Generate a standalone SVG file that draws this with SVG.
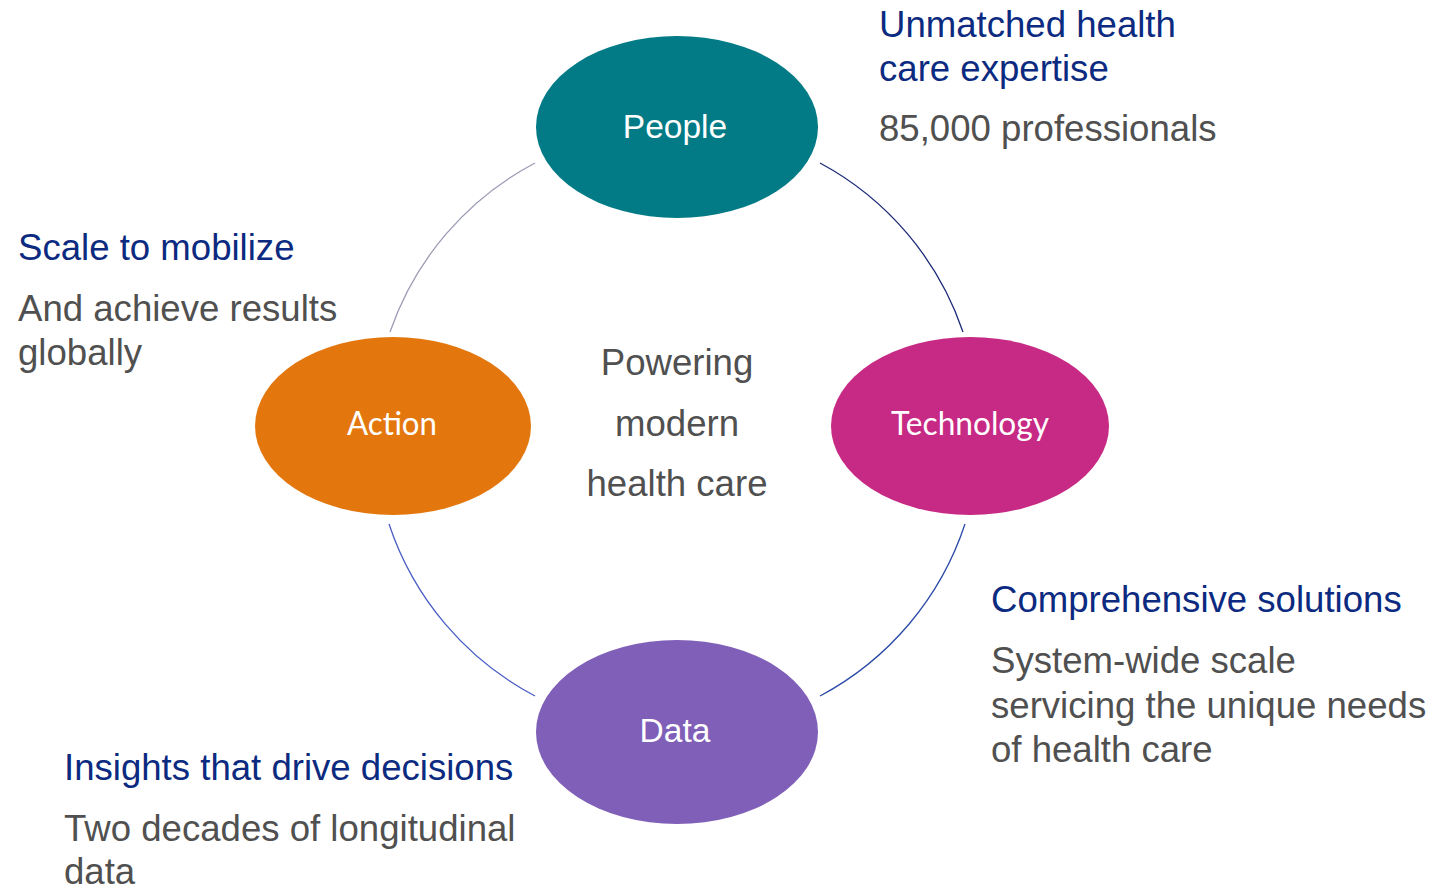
<svg xmlns="http://www.w3.org/2000/svg" width="1445" height="888" viewBox="0 0 1445 888">
<style>
.node-label{font-family:"Liberation Sans",Arial,sans-serif;font-size:33.5px;fill:#ffffff;text-anchor:middle}
.node-label2{font-family:Lato,"Open Sans",sans-serif;font-size:33px;fill:#ffffff;text-anchor:middle}
.head{font-family:"Liberation Sans",Arial,sans-serif;font-size:36.6px;fill:#0b2a80}
.sub{font-family:"Liberation Sans",Arial,sans-serif;font-size:36.6px;fill:#505050}
.center{font-family:"Liberation Sans",Arial,sans-serif;font-size:36.6px;fill:#505050;text-anchor:middle}
.arc{fill:none;stroke-width:1.3}
</style>
<rect width="1445" height="888" fill="#ffffff"/>
<g id="connectors">
<path class="arc" stroke="#9c9cb6" d="M535,163 A302,302 0 0 0 390,332"/>
<path class="arc" stroke="#1c2a78" d="M820,163 A302,302 0 0 1 963,332"/>
<path class="arc" stroke="#4a5ec4" d="M389,524 A302,302 0 0 0 535,696"/>
<path class="arc" stroke="#2b4aa8" d="M965,524 A302,302 0 0 1 820,696"/>
</g>
<g id="node-people">
<ellipse cx="677" cy="127" rx="141" ry="91" fill="#037b86"/>
<text class="node-label" x="675" y="138">People</text>
</g>
<g id="node-action">
<ellipse cx="393" cy="426" rx="138" ry="89" fill="#e3770e"/>
<text class="node-label2" x="392" y="435" textLength="90" lengthAdjust="spacingAndGlyphs">Action</text>
</g>
<g id="node-technology">
<ellipse cx="970" cy="426" rx="139" ry="89" fill="#c72a84"/>
<text class="node-label2" x="970" y="435" textLength="158" lengthAdjust="spacingAndGlyphs">Technology</text>
</g>
<g id="node-data">
<ellipse cx="677" cy="732" rx="141" ry="92" fill="#7f5fb8"/>
<text class="node-label" x="675" y="742">Data</text>
</g>
<g id="center-text">
<text class="center" x="677" y="375">Powering</text>
<text class="center" x="677" y="435.5">modern</text>
<text class="center" x="677" y="496">health care</text>
</g>
<g id="label-people">
<text class="head" x="879" y="36.5">Unmatched health</text>
<text class="head" x="879" y="81">care expertise</text>
<text class="sub" x="879" y="141">85,000 professionals</text>
</g>
<g id="label-action">
<text class="head" x="18" y="260">Scale to mobilize</text>
<text class="sub" x="18" y="320.5">And achieve results</text>
<text class="sub" x="18" y="365">globally</text>
</g>
<g id="label-data">
<text class="head" x="64" y="780">Insights that drive decisions</text>
<text class="sub" x="64" y="840.5">Two decades of longitudinal</text>
<text class="sub" x="64" y="884">data</text>
</g>
<g id="label-technology">
<text class="head" x="991" y="612">Comprehensive solutions</text>
<text class="sub" x="991" y="673">System-wide scale</text>
<text class="sub" x="991" y="717.5">servicing the unique needs</text>
<text class="sub" x="991" y="762">of health care</text>
</g>
</svg>
